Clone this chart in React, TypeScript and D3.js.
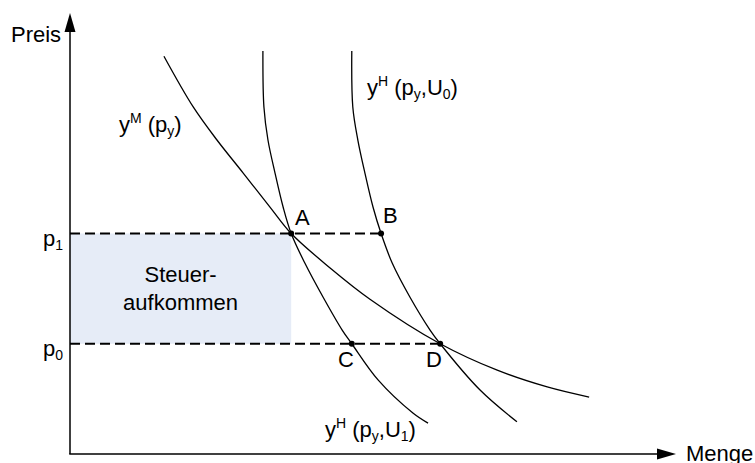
import React from 'react';
import * as d3 from 'd3';

// curve points (Menge, Preis)
const marshall: [number, number][] = [
  [1.86, 9.02], [2.44, 7.87], [2.91, 7.12], [3.43, 6.37], [3.96, 5.6], [4.38, 5.0],
  [5.15, 4.22], [5.94, 3.51], [7.33, 2.5], [8.46, 1.9], [9.45, 1.52], [10.28, 1.29],
];
const hicksU1: [number, number][] = [
  [3.82, 9.14], [3.84, 7.87], [3.92, 7.12], [4.06, 6.37], [4.22, 5.6], [4.38, 5.0],
  [4.65, 4.33], [5.01, 3.56], [5.39, 2.81], [5.58, 2.5], [6.1, 1.68], [6.79, 0.93], [7.09, 0.7],
];
const hicksU0: [number, number][] = [
  [5.58, 9.14], [5.6, 7.87], [5.7, 7.12], [5.84, 6.37], [6.0, 5.6], [6.16, 5.0],
  [6.38, 4.33], [6.73, 3.56], [7.13, 2.81], [7.33, 2.5], [8.12, 1.45], [8.85, 0.73],
];

const pointNames = ['A', 'B', 'C', 'D'];
const pointQ = [4.38, 6.16, 5.58, 7.33];
const pointP = [5.0, 5.0, 2.5, 2.5];

const p1 = 5.0;
const p0 = 2.5;

const width = 755;
const height = 463;
const font = '"Liberation Sans", Arial, sans-serif';

const x = d3.scaleLinear().domain([0, 12]).range([70, 676]);
const y = d3.scaleLinear().domain([0, 10]).range([454, 13]);

const line = d3.line<[number, number]>()
  .x(d => x(d[0]))
  .y(d => y(d[1]))
  .curve(d3.curveCatmullRom.alpha(0.5));

const Sub = ({ t }: { t: string }) => (
  <tspan fontSize={14} dy={4}>{t}</tspan>
);

const App = () => {
  const x0 = x(0);
  const y0 = y(0);
  const yTop = y(10);
  const xEnd = x(12);
  const boxMid = (x0 + x(pointQ[0])) / 2;

  return (
    <svg width={width} height={height} style={{ position: 'absolute', left: 0, top: 0, background: '#fff' }}
      fontFamily={font} fontSize={22} fill="#000">
      {/* tax revenue box */}
      <rect x={x0} y={y(p1)} width={x(pointQ[0]) - x0} height={y(p0) - y(p1)} fill="#e6ecf7" />
      <text x={boxMid} y={282} textAnchor="middle">Steuer-</text>
      <text x={boxMid} y={310} textAnchor="middle">aufkommen</text>

      {/* dashed price lines */}
      <line x1={x0} x2={x(pointQ[1])} y1={y(p1)} y2={y(p1)} stroke="#000" strokeWidth={2} strokeDasharray="10,5" />
      <line x1={x0} x2={x(pointQ[3])} y1={y(p0)} y2={y(p0)} stroke="#000" strokeWidth={2} strokeDasharray="10,5" />

      {/* axes */}
      <line x1={x0} x2={x0} y1={y0} y2={yTop + 15} stroke="#000" strokeWidth={1.5} />
      <path d={`M${x0},${yTop} L${x0 - 5.5},${yTop + 19} L${x0 + 5.5},${yTop + 19} Z`} fill="#000" />
      <line x1={x0 - 0.75} x2={xEnd - 15} y1={y0} y2={y0} stroke="#000" strokeWidth={1.5} />
      <path d={`M${xEnd},${y0} L${xEnd - 19},${y0 - 5.5} L${xEnd - 19},${y0 + 5.5} Z`} fill="#000" />
      <text x={11} y={42}>Preis</text>
      <text x={686} y={461}>Menge</text>

      {/* price labels */}
      <text x={43} y={246}>p<Sub t="1" /></text>
      <text x={43} y={356}>p<Sub t="0" /></text>

      {/* curves */}
      {[marshall, hicksU1, hicksU0].map((c, i) => (
        <path key={i} d={line(c) || ''} fill="none" stroke="#000" strokeWidth={1.3} />
      ))}

      {/* points */}
      {pointNames.map((n, i) => (
        <circle key={n} cx={x(pointQ[i])} cy={y(pointP[i])} r={3} fill="#000" />
      ))}
      <text x={295} y={225}>A</text>
      <text x={383} y={223}>B</text>
      <text x={338} y={367}>C</text>
      <text x={426} y={367}>D</text>

      {/* curve labels */}
      <text x={119} y={132}>y<tspan fontSize={14} dy={-9}>M</tspan><tspan dy={9}> (p</tspan><Sub t="y" /><tspan dy={-4}>)</tspan></text>
      <text x={367} y={95}>y<tspan fontSize={14} dy={-9}>H</tspan><tspan dy={9}> (p</tspan><Sub t="y" /><tspan dy={-4}>,U</tspan><Sub t="0" /><tspan dy={-4}>)</tspan></text>
      <text x={325} y={437}>y<tspan fontSize={14} dy={-9}>H</tspan><tspan dy={9}> (p</tspan><Sub t="y" /><tspan dy={-4}>,U</tspan><Sub t="1" /><tspan dy={-4}>)</tspan></text>
    </svg>
  );
};

export default App;
